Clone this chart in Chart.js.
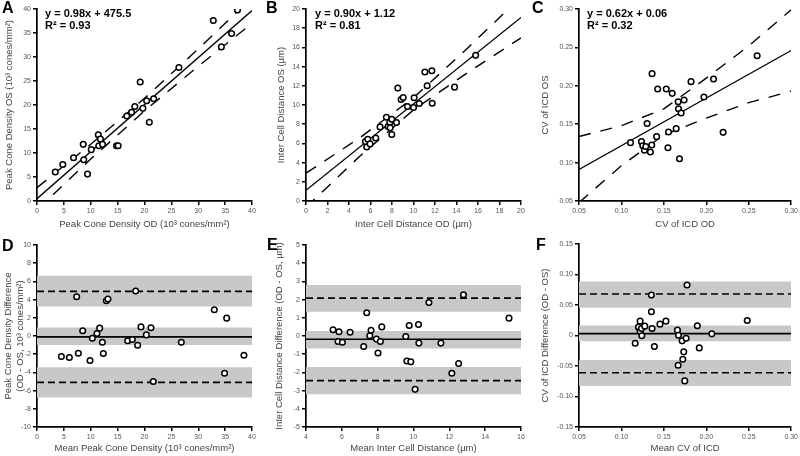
<!DOCTYPE html>
<html>
<head>
<meta charset="utf-8">
<script src="https://cdn.jsdelivr.net/npm/chart.js@4.4.0/dist/chart.umd.min.js"></script>
<style>
body{margin:0;background:#fff;width:800px;height:456px;position:relative;overflow:hidden;font-family:'Liberation Sans',Arial,sans-serif}
canvas{position:absolute}
.lbl{position:absolute;font-weight:bold;font-size:16px;line-height:16px;color:#000}
.eq{position:absolute;font-weight:bold;font-size:11px;line-height:12px;color:#000;white-space:nowrap}
</style>
</head>
<body>
<canvas id="cA" width="265" height="230" style="left:0;top:0"></canvas>
<canvas id="cB" width="265" height="230" style="left:265px;top:0"></canvas>
<canvas id="cC" width="270" height="230" style="left:530px;top:0"></canvas>
<canvas id="cD" width="265" height="230" style="left:0;top:226px"></canvas>
<canvas id="cE" width="265" height="230" style="left:265px;top:226px"></canvas>
<canvas id="cF" width="270" height="230" style="left:530px;top:226px"></canvas>

<div class="lbl" style="left:2px;top:0">A</div>
<div class="lbl" style="left:266px;top:0">B</div>
<div class="lbl" style="left:532px;top:0">C</div>
<div class="lbl" style="left:2px;top:238px">D</div>
<div class="lbl" style="left:267px;top:237px">E</div>
<div class="lbl" style="left:536px;top:237px">F</div>

<div class="eq" style="left:45px;top:7px">y = 0.98x + 475.5<br>R² = 0.93</div>
<div class="eq" style="left:315px;top:7px">y = 0.90x + 1.12<br>R² = 0.81</div>
<div class="eq" style="left:587px;top:7px">y = 0.62x + 0.06<br>R² = 0.32</div>

<script>
// ---- A: peak cone density (10^3 cones/mm2)
var aOD = [3.4, 4.8, 6.8, 8.6, 8.7, 9.4, 10.1, 11.4, 11.8, 11.5, 12.2, 14.8, 15.1, 16.7, 17.6, 18.2, 19.2, 19.7, 20.4, 21.7, 20.9, 26.4, 32.8, 34.3, 36.2, 37.3];
var aOS = [6.05, 7.6, 9.0, 11.8, 8.6, 5.6, 10.7, 13.8, 12.9, 11.5, 11.8, 11.5, 11.5, 17.7, 18.5, 19.7, 24.8, 19.3, 20.9, 21.3, 16.4, 27.8, 37.6, 32.1, 34.9, 39.8];
var aFitX = [0, 40];
var aFitY = [0.48, 39.68];
var aBandX = [0, 10, 20, 30, 40];
var aUpper = [2.78, 11.83, 21.39, 31.69, 42.34];
var aLower = [-1.82, 8.73, 18.77, 28.07, 37.02];
var aTicks = [0, 5, 10, 15, 20, 25, 30, 35, 40];
var aTickLabels = ['0', '5', '10', '15', '20', '25', '30', '35', '40'];

// ---- B: inter cell distance (um)
var bOD = [5.53, 5.65, 5.75, 5.96, 6.49, 6.89, 7.48, 7.64, 7.8, 7.83, 7.98, 7.98, 8.42, 8.54, 8.85, 9.04, 9.44, 10.0, 10.06, 10.53, 11.06, 11.27, 11.71, 11.74, 13.82, 15.78];
var bOS = [6.19, 5.63, 6.43, 5.95, 6.57, 7.72, 8.73, 7.76, 8.2, 7.62, 8.52, 6.92, 8.17, 11.76, 10.57, 10.78, 9.84, 9.74, 10.75, 10.16, 13.43, 12.0, 13.57, 10.19, 11.86, 15.17];
var bFitX = [0, 20];
var bFitY = [1.12, 19.12];
var bBandX = [0, 5, 10, 15, 20];
var bUpper = [2.9, 6.58, 10.75, 15.89, 21.25];
var bLower = [-0.66, 4.66, 9.49, 13.35, 16.99];
var bTicks = [0, 2, 4, 6, 8, 10, 12, 14, 16, 18, 20];
var bTickLabels = ['0', '2', '4', '6', '8', '10', '12', '14', '16', '18', '20'];

// ---- C: CV of ICD
var cOD = [0.1107, 0.1236, 0.1252, 0.1271, 0.1287, 0.1302, 0.1341, 0.1357, 0.1361, 0.1415, 0.1427, 0.1528, 0.1548, 0.1555, 0.1598, 0.1645, 0.1668, 0.1672, 0.1684, 0.1703, 0.1738, 0.182, 0.1972, 0.2085, 0.2198, 0.2599];
var cOS = [0.126, 0.1273, 0.122, 0.116, 0.121, 0.151, 0.1138, 0.1229, 0.2158, 0.1338, 0.1958, 0.1958, 0.1194, 0.1398, 0.1902, 0.1442, 0.1793, 0.1702, 0.1051, 0.1646, 0.1815, 0.2054, 0.1854, 0.2089, 0.1394, 0.2392];
var cFitX = [0.05, 0.30];
var cFitY = [0.091, 0.246];
var cBandX = [0.05, 0.10, 0.15, 0.20, 0.25, 0.30];
var cUpper = [0.134, 0.148, 0.170, 0.210, 0.252, 0.299];
var cLower = [0.048, 0.096, 0.136, 0.158, 0.178, 0.193];
var cvTicks = [0.05, 0.10, 0.15, 0.20, 0.25, 0.30];
var cvTickLabels = ['0.05', '0.10', '0.15', '0.20', '0.25', '0.30'];

// ---- D: Bland-Altman peak cone density
var dMean = [4.53, 6.02, 7.38, 7.69, 8.5, 9.86, 10.3, 11.16, 11.66, 12.16, 12.34, 12.9, 13.2, 16.87, 17.74, 18.36, 18.73, 19.35, 20.34, 21.2, 21.64, 26.85, 32.99, 34.9, 35.29, 38.5];
var dDiff = [-2.26, -2.37, 4.31, -1.89, 0.57, -2.70, -0.24, 0.28, 0.86, -0.68, -1.93, 3.87, 4.06, -0.53, -0.39, 4.94, -1.01, 1.0, 0.12, 0.9, -5.0, -0.68, 2.88, -4.09, 1.96, -2.11];
var dRange = [0, 40];
var dLimits = [4.9, -0.1, -5.1];      // upper limit, bias, lower limit
var dCIhi = [6.62, 0.94, -3.43];
var dCIlo = [3.25, -1.0, -6.77];
var dYTicks = [-10, -8, -6, -4, -2, 0, 2, 4, 6, 8, 10];
var dYTickLabels = ['-10', '-8', '-6', '-4', '-2', '0', '2', '4', '6', '8', '10'];

// ---- E: Bland-Altman inter cell distance
var eMean = [5.51, 5.84, 5.79, 6.03, 6.46, 7.22, 7.39, 7.56, 7.63, 7.93, 8.02, 8.15, 8.23, 9.57, 9.63, 9.76, 9.85, 10.09, 10.28, 10.3, 10.86, 11.53, 12.14, 12.52, 12.79, 15.33];
var eDiff = [0.34, 0.23, -0.30, -0.34, 0.21, -0.58, 1.28, 0.01, 0.32, -0.17, -0.93, -0.30, 0.50, -0.03, -1.37, 0.58, -1.42, -2.93, 0.63, -0.39, 1.84, -0.39, -2.05, -1.51, 2.27, 0.98];
var eRange = [4, 16];
var eLimits = [2.08, -0.18, -2.45];
var eCIhi = [2.8, 0.27, -1.70];
var eCIlo = [1.33, -0.69, -3.20];
var eXTicks = [4, 6, 8, 10, 12, 14, 16];
var eXTickLabels = ['4', '6', '8', '10', '12', '14', '16'];
var eYTicks = [-5, -4, -3, -2, -1, 0, 1, 2, 3, 4, 5];
var eYTickLabels = ['-5', '-4', '-3', '-2', '-1', '0', '1', '2', '3', '4', '5'];

// ---- F: Bland-Altman CV of ICD
var fMean = [0.1162, 0.1201, 0.1220, 0.1220, 0.1236, 0.1240, 0.1275, 0.1353, 0.1353, 0.1361, 0.1388, 0.1454, 0.1524, 0.1660, 0.1672, 0.1668, 0.1715, 0.1723, 0.1734, 0.1746, 0.1762, 0.1773, 0.1894, 0.1917, 0.2065, 0.2482];
var fDiff = [-0.0126, 0.0137, 0.0235, 0.0071, 0.0115, -0.0005, 0.0153, 0.0662, 0.0389, 0.0115, -0.0181, 0.0186, 0.0235, 0.0088, 0.0005, -0.0487, -0.0088, -0.0389, -0.0268, -0.0744, -0.0044, 0.0827, 0.0159, -0.0203, 0.0027, 0.0246];
var fRange = [0.05, 0.30];
var fLimits = [0.068, 0.003, -0.061];
var fCIhi = [0.0887, 0.0164, -0.040];
var fCIlo = [0.0454, -0.0093, -0.0827];
var fYTicks = [-0.15, -0.10, -0.05, 0, 0.05, 0.10, 0.15];
var fYTickLabels = ['-0.15', '-0.10', '-0.05', '0', '0.05', '0.10', '0.15'];

var FONT = "'Liberation Sans', Arial, sans-serif";
var GREY = 'rgb(200,200,200)';

function pts(xs, ys) {
    return xs.map(function (x, i) { return { x: x, y: ys[i] }; });
}

function dots(xs, ys) {
    return {
        type: 'scatter', data: pts(xs, ys),
        pointRadius: 2.8, pointBorderWidth: 1.5,
        pointBorderColor: '#000', pointBackgroundColor: '#fff'
    };
}

function line(xs, ys, dash, w) {
    return {
        type: 'line', data: pts(xs, ys), borderColor: '#000',
        borderWidth: w, borderDash: dash, pointRadius: 0, fill: false, tension: 0
    };
}

function band(xr, hi, lo) {
    return {
        type: 'line', data: pts(xr, [hi, hi]), borderWidth: 0,
        pointRadius: 0, backgroundColor: GREY, fill: { value: lo }
    };
}

// scatter + fit + confidence bands
function fitSets(xs, ys, fx, fy, bx, up, lo) {
    return [dots(xs, ys), line(fx, fy, [], 1.3), line(bx, up, [12, 10], 1.4), line(bx, lo, [12, 10], 1.4)];
}

// bland-altman: points, bias, limits, grey CI bands
function baSets(xs, ys, xr, lim, hi, lo) {
    var s = [dots(xs, ys)];
    s.push(line(xr, [lim[1], lim[1]], [], 1.6));
    s.push(line(xr, [lim[0], lim[0]], [7, 4], 1.6));
    s.push(line(xr, [lim[2], lim[2]], [7, 4], 1.6));
    for (var i = 0; i < 3; i++) s.push(band(xr, hi[i], lo[i]));
    return s;
}

function axis(min, max, ticks, labels, title, size, titlePad, horiz) {
    return {
        type: 'linear', min: min, max: max,
        afterBuildTicks: function (s) { s.ticks = ticks.map(function (v) { return { value: v }; }); },
        afterFit: function (s) { if (horiz) s.height = size; else s.width = size; },
        ticks: {
            autoSkip: false, maxRotation: 0, padding: 2,
            font: { family: FONT, size: 7 }, color: '#555',
            callback: function (v, i) { return labels[i]; }
        },
        grid: { drawOnChartArea: false, drawTicks: true, tickLength: 4, color: '#000', lineWidth: 1.5 },
        border: { display: true, color: '#000', width: 1.7 },
        title: {
            display: true, text: title, color: '#444',
            font: { family: FONT, size: 9.5, lineHeight: 1.2 },
            padding: horiz ? { top: 0, bottom: titlePad } : { top: titlePad, bottom: 0 }
        }
    };
}

function panel(id, sets, x, y, padTop, padRight) {
    new Chart(document.getElementById(id), {
        type: 'scatter',
        data: { datasets: sets },
        options: {
            responsive: false, animation: false, devicePixelRatio: 1, events: [],
            layout: { padding: { top: padTop, right: padRight, left: 0, bottom: 0 } },
            plugins: { legend: { display: false }, tooltip: { enabled: false }, filler: { propagate: false } },
            scales: { x: x, y: y }
        }
    });
}

panel('cA', fitSets(aOD, aOS, aFitX, aFitY, aBandX, aUpper, aLower),
    axis(0, 40, aTicks, aTickLabels, 'Peak Cone Density OD (10³ cones/mm²)', 29, 0, true),
    axis(0, 40, aTicks, aTickLabels, 'Peak Cone Density OS (10³ cones/mm²)', 37, 4, false), 9, 13);

panel('cB', fitSets(bOD, bOS, bFitX, bFitY, bBandX, bUpper, bLower),
    axis(0, 20, bTicks, bTickLabels, 'Inter Cell Distance OD (µm)', 29, 0, true),
    axis(0, 20, bTicks, bTickLabels, 'Inter Cell Distance OS (µm)', 41, 11, false), 9, 9);

panel('cC', fitSets(cOD, cOS, cFitX, cFitY, cBandX, cUpper, cLower),
    axis(0.05, 0.30, cvTicks, cvTickLabels, 'CV of ICD OD', 29, 0, true),
    axis(0.05, 0.30, cvTicks, cvTickLabels, 'CV of ICD OS', 49, 10, false), 9, 7);

panel('cD', baSets(dMean, dDiff, dRange, dLimits, dCIhi, dCIlo),
    axis(0, 40, aTicks, aTickLabels, 'Mean Peak Cone Density (10³ cones/mm²)', 29, 2, true),
    axis(-10, 10, dYTicks, dYTickLabels, ['Peak Cone Density Difference', '(OD - OS, 10³ cones/mm²)'], 37, 3, false), 19, 13);

panel('cE', baSets(eMean, eDiff, eRange, eLimits, eCIhi, eCIlo),
    axis(4, 16, eXTicks, eXTickLabels, 'Mean Inter Cell Distance (µm)', 29, 2, true),
    axis(-5, 5, eYTicks, eYTickLabels, 'Inter Cell Distance Difference (OD - OS, µm)', 41, 9, false), 19, 9);

panel('cF', baSets(fMean, fDiff, fRange, fLimits, fCIhi, fCIlo),
    axis(0.05, 0.30, cvTicks, cvTickLabels, 'Mean CV of ICD', 29, 2, true),
    axis(-0.15, 0.15, fYTicks, fYTickLabels, 'CV of ICD Difference (OD - OS)', 49, 10, false), 18, 7);
</script>
</body>
</html>
